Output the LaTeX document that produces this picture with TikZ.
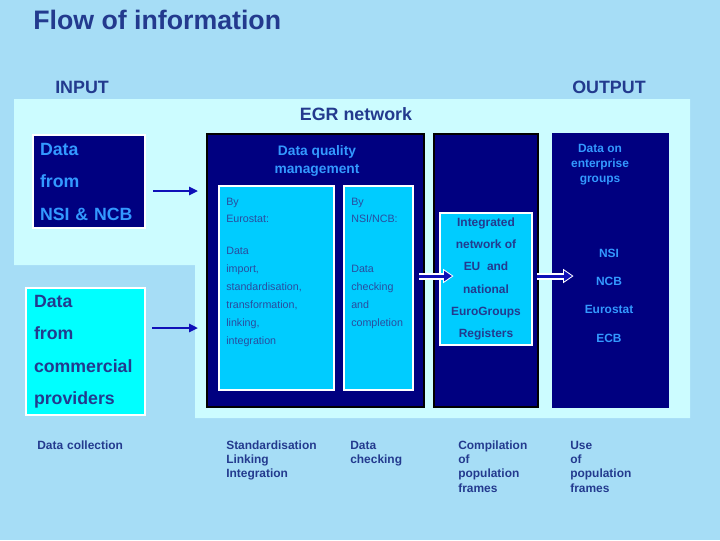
\documentclass[tikz,border=0pt]{standalone}
\usepackage{fontspec}
\setmainfont{Liberation Sans}
\usetikzlibrary{arrows.meta,positioning,calc}
\definecolor{sky}{HTML}{A6DDF6}
\definecolor{pale}{HTML}{CCFCFF}
\definecolor{navy}{HTML}{000080}
\definecolor{azure}{HTML}{3399FF}
\definecolor{aqua}{HTML}{00FFFF}
\definecolor{cyanbox}{HTML}{00CCFF}
\definecolor{ink}{HTML}{233A8E}
\definecolor{smallink}{HTML}{2A4C9E}
\definecolor{arrowblue}{HTML}{1010B8}
\tikzset{
  panelbox/.style={anchor=north west, inner sep=0pt, line width=0.05cm},
  darkbox/.style={panelbox, fill=navy, draw=#1},
  darkbox/.default=navy,
  lightbox/.style={panelbox, fill=#1, draw=white},
  lightbox/.default=cyanbox,
  heading/.style={font=\fontsize{12.7}{15}\selectfont\bfseries, text=ink, inner sep=0pt, anchor=base west},
  bigtext/.style={font=\fontsize{12.6}{23.1}\selectfont\bfseries, align=left, inner xsep=#1, inner ysep=0pt},
  smalltext/.style={font=\fontsize{7.6}{12.7}\selectfont, text=smallink, align=left, inner sep=0pt, anchor=base west, text width=#1},
  boldnote/.style={font=\fontsize{8.5}{#1}\selectfont\bfseries, align=center, inner sep=0pt},
  caption/.style={font=\fontsize{8.5}{10.2}\selectfont\bfseries, text=ink, align=left, inner sep=0pt, anchor=base west, text width=2.6cm},
  inarrow/.style={draw=arrowblue, line width=0.065cm, -{Triangle[length=0.22cm, width=0.2cm]}},
  blockarrow/.style={draw=arrowblue, line width=0.075cm, -{Triangle[length=0.2cm, width=0.25cm]},
    preaction={draw=white, line width=0.175cm, shorten >=-0.04cm, -{Triangle[length=0.26cm, width=0.34cm]}}},
}

\begin{document}
\begin{tikzpicture}[x=0.025cm, y=-0.025cm]
  % background and network panel
  \fill[sky] (0,0) rectangle (720,540);
  \useasboundingbox (0,0) rectangle (720,540);
  \fill[pale] (14,99) -- (690,99) -- (690,418) -- (195,418) -- (195,265) -- (14,265) -- cycle;

  \node[font=\fontsize{19}{22}\selectfont\bfseries, text=ink, anchor=base west, inner sep=0pt] (title) at (33,29) {Flow of information};
  \node[heading] (input) at (55,93.5) {INPUT};
  \node[heading] (output) at (572,93.5) {OUTPUT};
  \node[heading, anchor=base] (egrhead) at (356,120.5) {EGR network};

  % input boxes
  \node[darkbox=white, bigtext=0.175cm, text=azure, text width=2.45cm, minimum width=2.8cm, minimum height=2.325cm] (nsi) at (32,134) {Data\\from\\NSI \& NCB};
  \node[lightbox=aqua, bigtext=0.2cm, text=ink, text width=2.575cm, minimum width=2.975cm, minimum height=3.175cm] (com) at (25,287) {Data\\from\\commercial\\providers};

  % data quality management
  \node[darkbox=black, minimum width=5.425cm, minimum height=6.825cm] (dqm) at (206,133) {};
  \node[font=\fontsize{9.8}{12.8}\selectfont\bfseries, text=azure, align=center, inner sep=0pt] (dqmhead) at (317,161) {Data quality\\management};
  \node[lightbox, minimum width=2.875cm, minimum height=5.1cm] (eu) at (218,185) {};
  \node[lightbox, minimum width=1.725cm, minimum height=5.1cm] (nc) at (343,185) {};
  \node[smalltext=2.6cm] (eutext) at (226,205) {By\\Eurostat:\\[10pt]Data\\import,\\standardisation,\\transformation,\\linking,\\integration};
  \node[smalltext=1.5cm] (nctext) at (351,205) {By\\NSI/NCB:\\[22.8pt]Data\\checking\\and\\completion};

  % registers
  \node[darkbox=black, minimum width=2.6cm, minimum height=6.825cm] (egr) at (433,133) {};
  \node[lightbox, boldnote=15.9pt, text=ink, minimum width=2.3cm, minimum height=3.3cm] (reg) at (439,212) {Integrated\\network of\\EU~~and\\national\\EuroGroups\\Registers};

  % output
  \node[darkbox, minimum width=2.875cm, minimum height=6.825cm] (out) at (552,133) {};
  \node[boldnote=10.7pt, text=azure] (outhead) at (600,165) {Data on\\enterprise\\groups};
  \node[boldnote=20.1pt, text=azure] (outlist) at (609,295.5) {NSI\\NCB\\Eurostat\\ECB};

  \draw[inarrow] ($(nsi.east)+(7,9.5)$) -- ($(nsi.east -| dqm.west)+(-8,9.5)$);
  \draw[inarrow] ($(com.east)+(6,-23.5)$) -- ($(com.east -| dqm.west)+(-8,-23.5)$);
  \draw[blockarrow] ($(dqm.east)+(-6,5.5)$) -- ($(dqm.east -| reg.west)+(13,5.5)$);
  \draw[blockarrow] ($(egr.east)+(-2,5.5)$) -- ($(egr.east -| out.west)+(20,5.5)$);

  % steps below
  \node[caption] (cap1) at (37,449) {Data collection};
  \node[caption] (cap2) at (226,449) {Standardisation\\Linking\\Integration};
  \node[caption] (cap3) at (350,449) {Data\\checking};
  \node[caption] (cap4) at (458,449) {Compilation\\of\\population\\frames};
  \node[caption] (cap5) at (570,449) {Use\\of\\population\\frames};
\end{tikzpicture}
\end{document}
